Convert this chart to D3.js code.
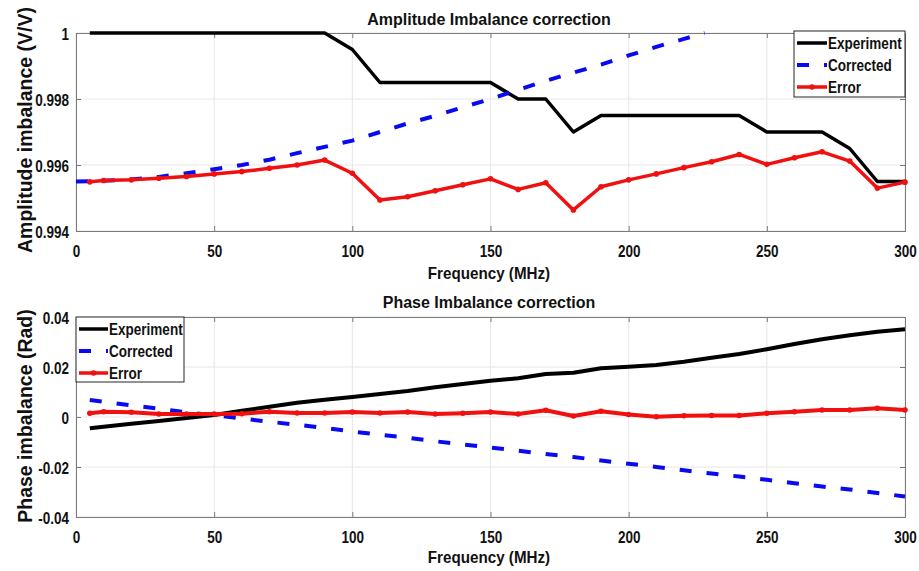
<!DOCTYPE html>
<html>
<head>
<meta charset="utf-8">
<script src="https://cdn.jsdelivr.net/npm/d3@7"></script>
<style>
  html, body { margin: 0; padding: 0; background: #fff; }
  svg { display: block; }
  text { font-family: "Liberation Sans", Arial, sans-serif; font-weight: bold; fill: #111; }
</style>
</head>
<body>
<svg id="chart" width="919" height="571"></svg>
<script>
// ---------- data ----------
const freq = [5,10,20,30,40,50,60,70,80,90,100,110,120,130,140,150,160,170,180,190,200,210,220,230,240,250,260,270,280,290,300];

const ampExperiment = [1,1,1,1,1,1,1,1,1,1,0.9995,0.9985,0.9985,0.9985,0.9985,0.9985,0.998,0.998,0.997,0.9975,0.9975,0.9975,0.9975,0.9975,0.9975,0.997,0.997,0.997,0.9965,0.9955,0.9955];
const ampCorrectedFreq = [0,10,20,30,40,50,60,70,80,90,100,110,120,130,140,150,160,170,180,190,200,210,220,227.5];
const ampCorrected = [0.9955,0.99552,0.99556,0.99564,0.99575,0.99587,0.996,0.99616,0.99636,0.99655,0.99674,0.997,0.99726,0.99749,0.99775,0.998,0.99828,0.99855,0.9988,0.99904,0.99932,0.99958,0.99982,1.0];
const ampError = [0.99549,0.99553,0.99555,0.9956,0.99565,0.99573,0.9958,0.9959,0.996,0.99615,0.99575,0.99494,0.99504,0.99522,0.9954,0.99558,0.99526,0.99546,0.99464,0.99534,0.99555,0.99573,0.99592,0.9961,0.99632,0.99602,0.99622,0.9964,0.99612,0.9953,0.99548];

const phExperiment = [-0.0045,-0.0039,-0.0027,-0.0016,-0.0004,0.0008,0.0025,0.0041,0.0057,0.0069,0.008,0.0092,0.0104,0.0119,0.0132,0.0145,0.0155,0.0172,0.0177,0.0195,0.0201,0.0208,0.0221,0.0237,0.0252,0.0271,0.0292,0.0311,0.0327,0.0341,0.0351];
const phCorrected = [0.0068,0.0061,0.0047,0.0033,0.0019,0.0007,-0.0006,-0.0019,-0.0031,-0.0044,-0.0058,-0.0071,-0.0083,-0.0097,-0.011,-0.0122,-0.0135,-0.0148,-0.016,-0.0174,-0.0187,-0.02,-0.0213,-0.0226,-0.0238,-0.0251,-0.0265,-0.0278,-0.029,-0.0304,-0.0318];
const phError = [0.0015,0.0021,0.0019,0.0012,0.0012,0.0012,0.0013,0.0021,0.0016,0.0016,0.002,0.0016,0.002,0.0012,0.0015,0.002,0.0012,0.0027,0.0004,0.0023,0.001,0.0001,0.0005,0.0006,0.0006,0.0015,0.0021,0.0028,0.0028,0.0035,0.0028];

const xTicks = [0,50,100,150,200,250,300];
const xTickLabels = ["0","50","100","150","200","250","300"];
const ampTicks = [0.994,0.996,0.998,1];
const ampTickLabels = ["0.994","0.996","0.998","1"];
const phTicks = [-0.04,-0.02,0,0.02,0.04];
const phTickLabels = ["-0.04","-0.02","0","0.02","0.04"];
const seriesNames = ["Experiment","Corrected","Error"];

// ---------- drawing ----------
const svg = d3.select("#chart");
const COL = { exp: "#000000", cor: "#0a0af0", err: "#f01010" };
const x = d3.scaleLinear().domain([0,300]).range([76,905]);

function addText(g, tx, ty, str, size, sx, anchor) {
  return g.append("text")
    .attr("transform", `translate(${tx},${ty}) scale(${sx},1)`)
    .attr("text-anchor", anchor)
    .style("font-size", size + "px")
    .text(str);
}

function panel(cfg) {
  const y = d3.scaleLinear().domain(cfg.domain).range([cfg.bottom, cfg.top]);
  const g = svg.append("g");
  const [x0, x1] = x.range();

  // grid
  g.append("g").selectAll("line").data(xTicks).join("line")
    .attr("x1", d => x(d)).attr("x2", d => x(d))
    .attr("y1", cfg.top).attr("y2", cfg.bottom)
    .attr("stroke", "#e6e6e6").attr("stroke-width", 1);
  g.append("g").selectAll("line").data(cfg.yTicks).join("line")
    .attr("x1", x0).attr("x2", x1)
    .attr("y1", d => y(d)).attr("y2", d => y(d))
    .attr("stroke", "#e6e6e6").attr("stroke-width", 1);

  // axes (ticks inside)
  const fmtX = d => xTickLabels[xTicks.indexOf(d)];
  const fmtY = d => cfg.yLabels[cfg.yTicks.indexOf(d)];
  const axB = g.append("g").attr("transform", `translate(0,${cfg.bottom})`)
    .call(d3.axisBottom(x).tickValues(xTicks).tickFormat(fmtX).tickSize(-5).tickPadding(0));
  const axT = g.append("g").attr("transform", `translate(0,${cfg.top})`)
    .call(d3.axisTop(x).tickValues(xTicks).tickFormat("").tickSize(-5));
  const axL = g.append("g").attr("transform", `translate(${x0},0)`)
    .call(d3.axisLeft(y).tickValues(cfg.yTicks).tickFormat(fmtY).tickSize(-5).tickPadding(0));
  const axR = g.append("g").attr("transform", `translate(${x1},0)`)
    .call(d3.axisRight(y).tickValues(cfg.yTicks).tickFormat("").tickSize(-5));
  [axB, axT, axL, axR].forEach(a => {
    a.select(".domain").attr("stroke", "#7a7a7a");
    a.selectAll(".tick line").attr("stroke", "#7a7a7a");
    a.attr("font-family", null).attr("font-size", null);
  });
  axB.selectAll(".tick text")
    .attr("y", null).attr("dy", null).attr("fill", "#111")
    .attr("transform", "translate(0,25.5) scale(0.82,1)")
    .style("font-size", "16.5px");
  axL.selectAll(".tick text")
    .attr("x", null).attr("dy", null).attr("fill", "#111")
    .attr("transform", "translate(-7,6) scale(0.82,1)")
    .style("font-size", "16.5px");

  // lines
  const line = (xs, ys) => d3.line().x((d, i) => x(xs[i])).y(d => y(d))(ys);
  g.append("path").attr("d", line(freq, cfg.exp))
    .attr("fill", "none").attr("stroke", COL.exp).attr("stroke-width", cfg.lw)
    .attr("stroke-linejoin", "round");
  g.append("path").attr("d", line(cfg.corFreq, cfg.cor))
    .attr("fill", "none").attr("stroke", COL.cor).attr("stroke-width", 4)
    .attr("stroke-dasharray", "12,15");
  g.append("path").attr("d", line(freq, cfg.err))
    .attr("fill", "none").attr("stroke", COL.err).attr("stroke-width", cfg.lw)
    .attr("stroke-linejoin", "round");
  g.append("g").selectAll("circle").data(cfg.err).join("circle")
    .attr("cx", (d, i) => x(freq[i])).attr("cy", d => y(d)).attr("r", 2.8)
    .attr("fill", COL.err);

  // titles & labels
  addText(svg, 489, cfg.titleY, cfg.title, 16, 1, "middle");
  addText(svg, 489, cfg.xLabelY, "Frequency (MHz)", 16, 0.95, "middle");
  svg.append("text")
    .attr("transform", `translate(32,${cfg.yLabelCenter}) rotate(-90)`)
    .attr("text-anchor", "middle")
    .style("font-size", "19.5px")
    .text(cfg.yLabel);

  // legend
  const L = cfg.legend;
  const lg = svg.append("g");
  lg.append("rect").attr("x", L.x).attr("y", L.y).attr("width", L.w).attr("height", L.h)
    .attr("fill", "#fff").attr("stroke", "#262626").attr("stroke-width", 1);
  const styles = [
    { c: COL.exp, w: 3.5, dash: null },
    { c: COL.cor, w: 4, dash: "12,15" },
    { c: COL.err, w: 3.5, dash: null }
  ];
  seriesNames.forEach((name, i) => {
    const yy = L.rows[i];
    const st = styles[i];
    lg.append("line").attr("x1", L.sx0).attr("x2", L.sx1).attr("y1", yy).attr("y2", yy)
      .attr("stroke", st.c).attr("stroke-width", st.w)
      .attr("stroke-dasharray", st.dash);
    if (i === 2) {
      lg.append("circle").attr("cx", (L.sx0 + L.sx1) / 2).attr("cy", yy).attr("r", 2.8).attr("fill", st.c);
    }
    addText(lg, L.sx1 + 1, yy + 6, name, 16.5, 0.82, "start");
  });
}

panel({
  domain: [0.994, 1], top: 33, bottom: 231,
  yTicks: ampTicks, yLabels: ampTickLabels, lw: 3.5,
  exp: ampExperiment, corFreq: ampCorrectedFreq, cor: ampCorrected, err: ampError,
  title: "Amplitude Imbalance correction", titleY: 25, xLabelY: 279,
  yLabel: "Amplitude imbalance (V/V)", yLabelCenter: 130,
  legend: { x: 794, y: 31, w: 111, h: 66, rows: [43, 65, 87], sx0: 797, sx1: 827 }
});

panel({
  domain: [-0.04, 0.04], top: 317, bottom: 517,
  yTicks: phTicks, yLabels: phTickLabels, lw: 4,
  exp: phExperiment, corFreq: freq, cor: phCorrected, err: phError,
  title: "Phase Imbalance correction", titleY: 308, xLabelY: 563,
  yLabel: "Phase imbalance (Rad)", yLabelCenter: 416,
  legend: { x: 76, y: 317, w: 108, h: 65, rows: [329, 351, 373], sx0: 79, sx1: 108 }
});
</script>
</body>
</html>
